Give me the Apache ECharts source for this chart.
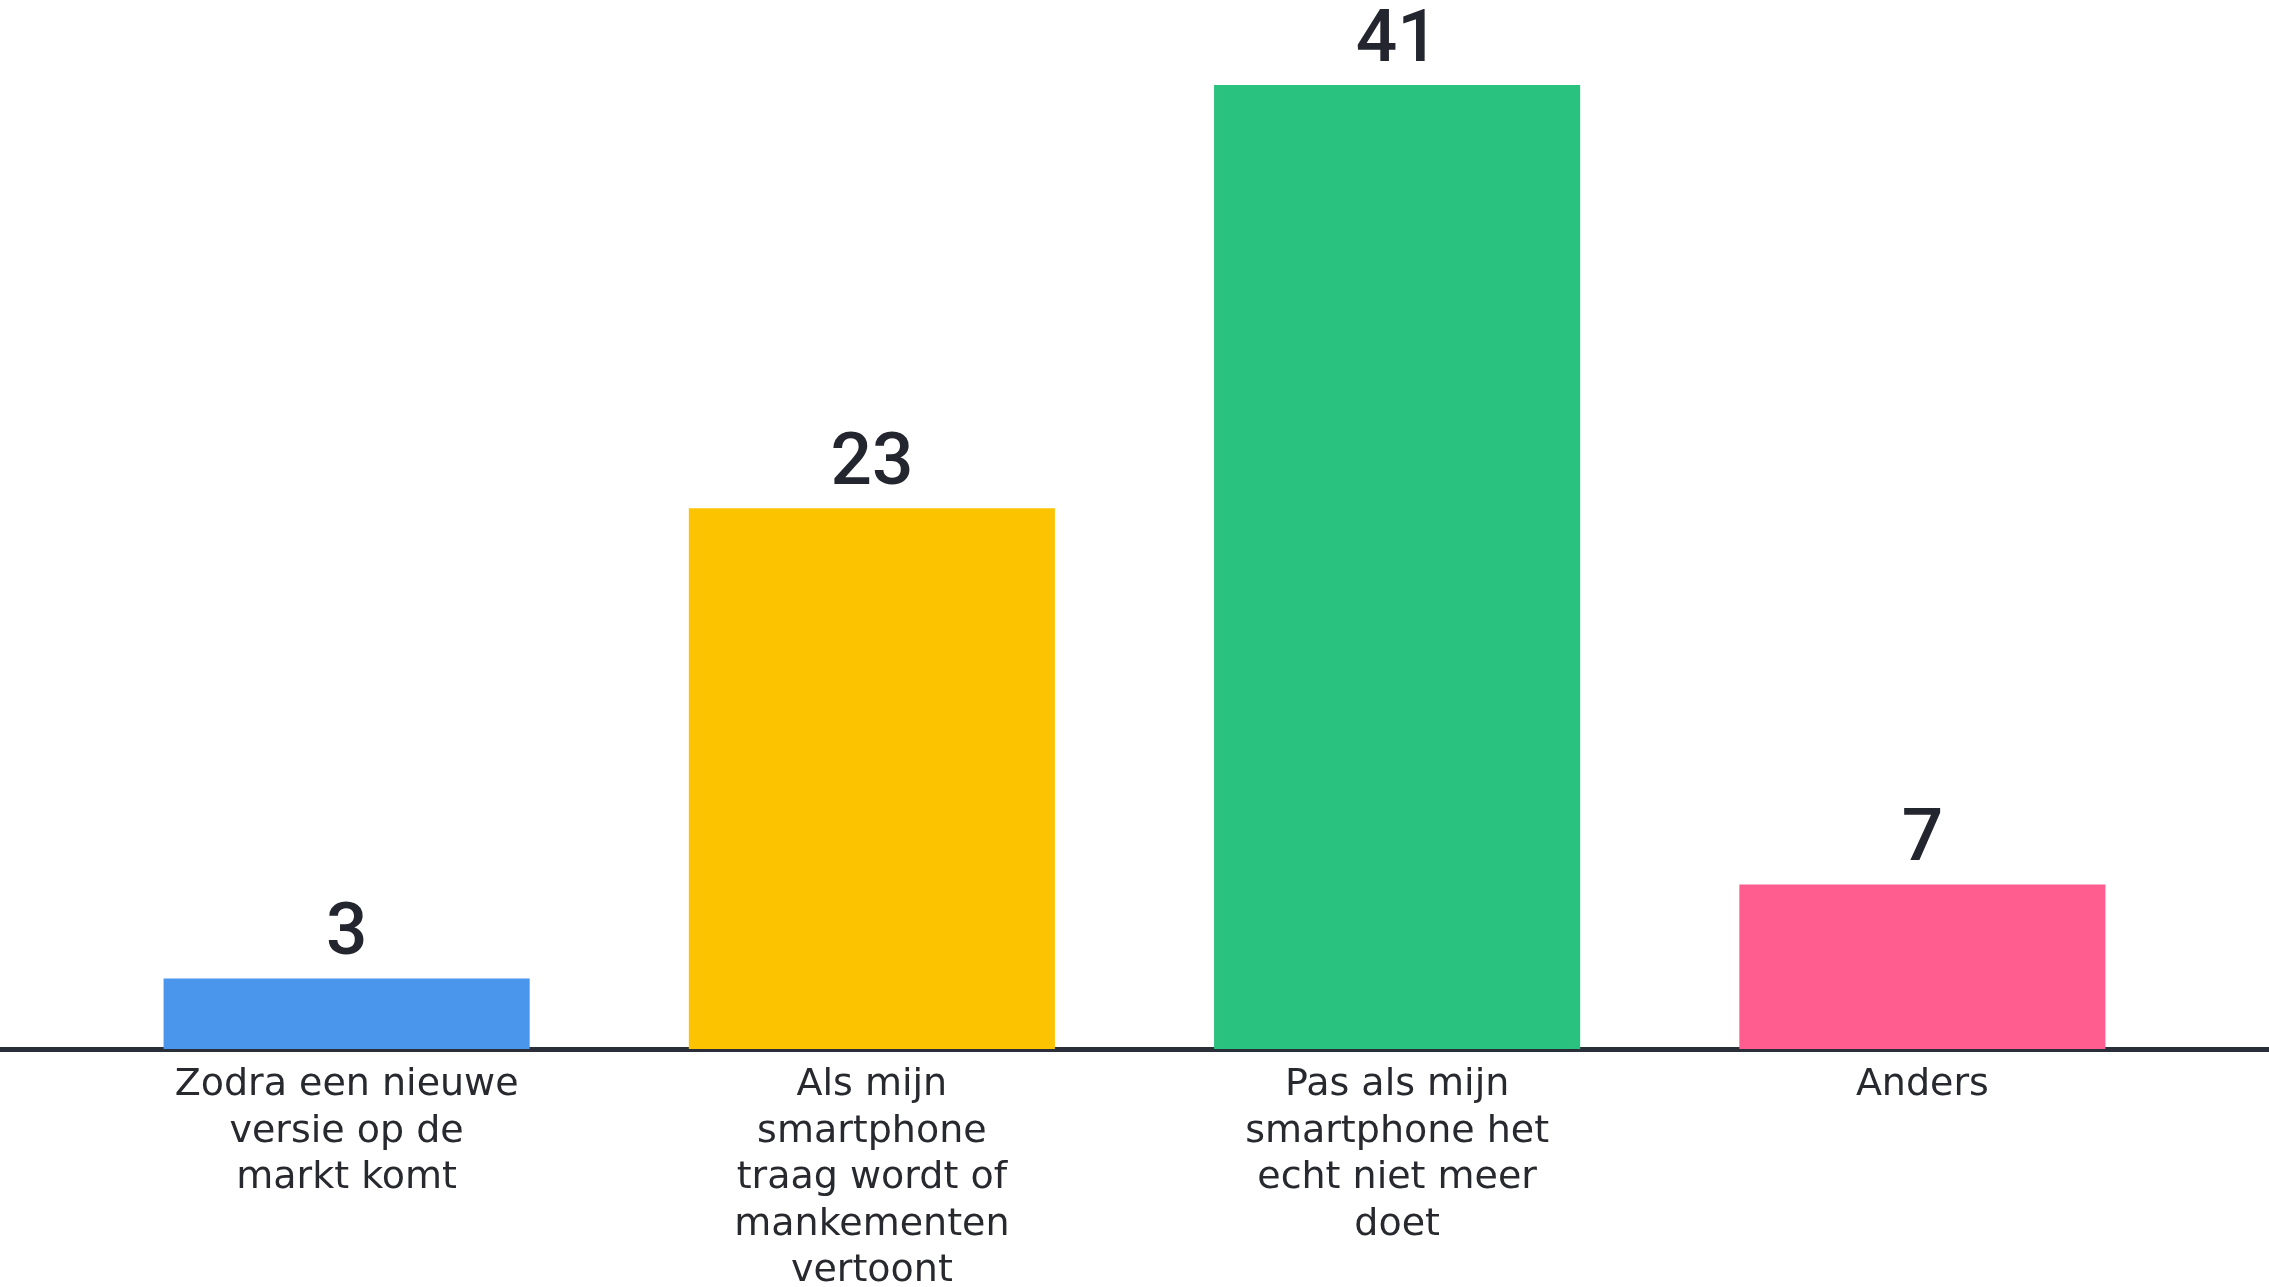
<!DOCTYPE html>
<html>
<head>
<meta charset="utf-8">
<script src="https://cdn.jsdelivr.net/npm/echarts@6/dist/echarts.min.js"></script>
<style>
html,body{margin:0;padding:0;background:#fff;}
#chart{width:2269px;height:1287px;}
</style>
</head>
<body>
<div id="chart"></div>
<script>
const categories = [
  "Zodra een nieuwe\nversie op de\nmarkt komt",
  "Als mijn\nsmartphone\ntraag wordt of\nmankementen\nvertoont",
  "Pas als mijn\nsmartphone het\necht niet meer\ndoet",
  "Anders"
];
const values = [3, 23, 41, 7];
const barColors = ["#4A96EC", "#FCC300", "#29C27F", "#FF5C8F"];

const chart = echarts.init(document.getElementById('chart'), null, {renderer: 'canvas'});
chart.setOption({
  backgroundColor: '#ffffff',
  animation: false,
  grid: [
    {left: 84, right: 84, top: 85, bottom: 238, containLabel: false, outerBoundsMode: 'none'},
    {left: 0, right: 0, top: 85, bottom: 238, containLabel: false, outerBoundsMode: 'none'}
  ],
  xAxis: [
    {
      type: 'category', gridIndex: 0, data: categories,
      axisLine: {show: false}, axisTick: {show: false},
      axisLabel: {
        interval: 0, margin: 13, color: '#27292f',
        fontFamily: "DejaVu Sans", fontSize: 38, fontWeight: 'normal', lineHeight: 46.5, align: 'center'
      }
    },
    {
      type: 'value', gridIndex: 1, min: 0, max: 1,
      axisLine: {show: true, onZero: false, lineStyle: {color: '#2a2e38', width: 5}},
      axisTick: {show: false}, axisLabel: {show: false}, splitLine: {show: false}
    }
  ],
  yAxis: [
    {type: 'value', gridIndex: 0, min: 0, max: 'dataMax', show: false, splitLine: {show: false}},
    {type: 'value', gridIndex: 1, show: false, splitLine: {show: false}}
  ],
  series: [{
    type: 'bar', xAxisIndex: 0, yAxisIndex: 0,
    data: values.map((v, i) => ({value: v, itemStyle: {color: barColors[i]}})),
    barWidth: '69.7%',
    label: {
      show: true, position: 'top', distance: 6,
      color: '#23262f', fontFamily: "Roboto", fontSize: 73, fontWeight: 500
    }
  }]
});
</script>
</body>
</html>
